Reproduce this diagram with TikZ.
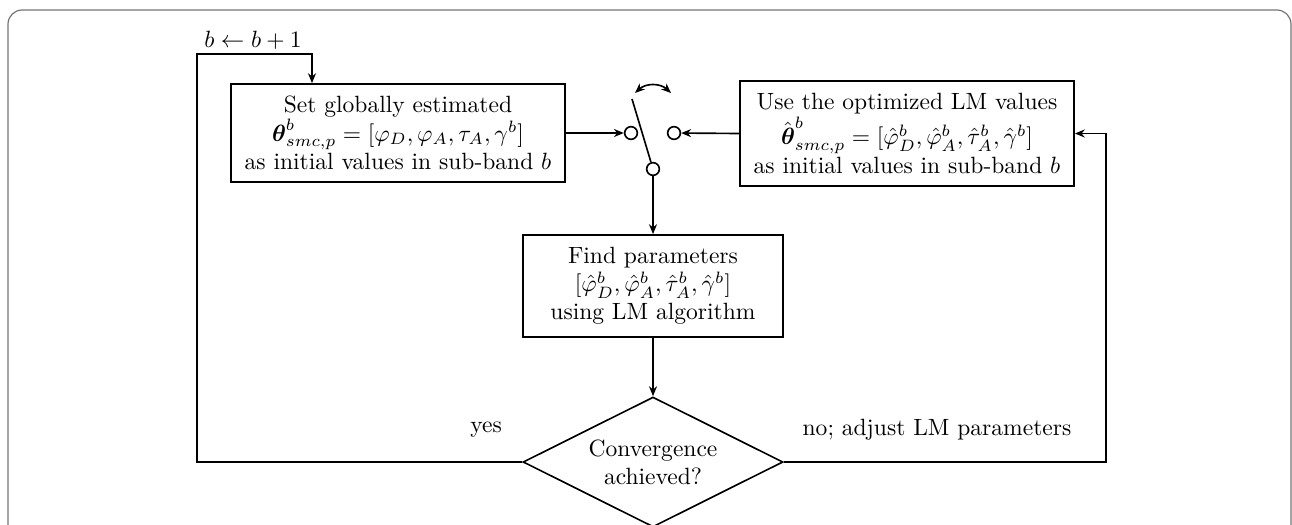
\documentclass[tikz,border=0pt]{standalone}
\usepackage{amssymb, mathtools, amsmath}
\usetikzlibrary{shapes.geometric, arrows.meta, calc}

\tikzset{
  flowline/.style={line width=0.7pt},
  flowarrow/.style={flowline, -{Stealth[length=4.2pt,width=3.4pt]}},
  blockbox/.style={draw, line width=0.7pt, align=center, inner sep=3pt},
  decisionbox/.style={draw, line width=0.7pt, diamond, aspect=2, align=center,
    inner sep=0pt, minimum width=110.5pt, minimum height=55.25pt},
  contact/.style={draw, line width=0.7pt, circle, inner sep=0pt, minimum size=5.4pt, fill=white},
}

\begin{document}
\begin{tikzpicture}[x=0.425pt,y=0.425pt,yscale=-1,xscale=1]
\useasboundingbox (0,0) rectangle (1292,524);
\clip (0,0) rectangle (1292,524);

%Shape: Frame
\draw [color=black!55, line width=0.5pt, rounded corners=6pt] (8,10) rectangle (1291,600);

% Blocks
\node [blockbox, minimum width=142pt, minimum height=41.7pt] (set) at (398,133)
  {Set globally estimated\\
   $\boldsymbol{\theta}^b_{smc,p}=[\varphi_D,\varphi_A,\tau_A,\gamma^b]$\\
   as initial values in sub-band $b$};
\node [blockbox, minimum width=142pt, minimum height=44.6pt] (use) at (907,133.5)
  {Use the optimized LM values\\
   $\hat{\boldsymbol{\theta}}^b_{smc,p}=[\hat{\varphi}^b_D,\hat{\varphi}^b_A,\hat{\tau}^b_A,\hat{\gamma}^b]$\\
   as initial values in sub-band $b$};
\node [blockbox, minimum width=110.5pt, minimum height=43.4pt] (find) at (653,286)
  {Find parameters\\
   $[\hat{\varphi}^b_D,\hat{\varphi}^b_A,\hat{\tau}^b_A,\hat{\gamma}^b]$\\
   using LM algorithm};
\node [decisionbox] (conv) at (653,462) {Convergence\\ achieved?};

% Switch
\node [contact] (inA) at (631,133) {};
\node [contact] (inB) at (674,133) {};
\node [contact] (out) at (653,169) {};
\coordinate (lever) at (632,99);
\draw [flowline] (out) -- (lever);
\draw [flowline, {Stealth[length=4.2pt,width=3.4pt]}-{Stealth[length=4.2pt,width=3.4pt]}]
  (635,93) .. controls (646,83) and (660,83) .. (671,93);

% Connectors
\draw [flowarrow] (set.east) -- (inA);
\draw [flowarrow] (use.west) -- (inB);
\draw [flowarrow] (out) -- (find.north);
\draw [flowarrow] (find.south) -- (conv.north);

\coordinate (loopL) at (197,54);
\coordinate (loopR) at (1106,462);
\draw [flowarrow] (conv.west) -| (loopL) -| ($(set.north)+(-86,0)$);
\draw [flowarrow] (conv.east) -- (loopR) |- (use.east);

% Text Node
\node (incr) at (253,40) {$b \leftarrow b+1$};
% Text Node
\node (yes) at (486,430) {yes};
% Text Node
\node (no) at (937,430) {no; adjust LM parameters};

\end{tikzpicture}
\end{document}
